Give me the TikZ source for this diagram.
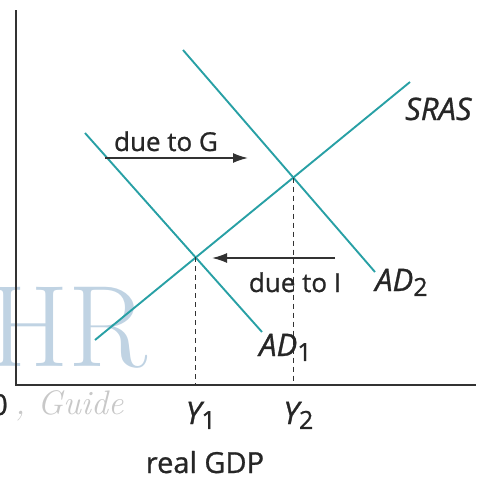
\documentclass[tikz,border=0pt]{standalone}
\usepackage{fontspec}
\setsansfont{Open Sans}
\newfontfamily\labfont{Open Sans}[FakeBold=0.9]
\newfontfamily\labitfont{Open Sans Italic}[FakeBold=0.9]
\usetikzlibrary{intersections,arrows.meta}
\definecolor{curve}{RGB}{40,160,165}
\definecolor{axis}{RGB}{50,50,50}
\definecolor{ink}{RGB}{38,38,38}
\definecolor{wmark}{RGB}{192,211,227}
\definecolor{wgrey}{RGB}{200,200,200}
\tikzset{
  curveline/.style={curve,line width=1.9pt},
  axisline/.style={axis,line width=2.4pt},
  guide/.style={axis,line width=1pt,dash pattern=on 5pt off 4pt},
  shift arrow/.style={axis,line width=1.7pt,-{Latex[length=15pt,width=10pt]}},
  lab/.style={font=\labfont\fontsize{26}{26}\selectfont,text=ink,inner sep=0pt},
  biglab/.style={font=\labfont\fontsize{29}{29}\selectfont,text=ink,inner sep=0pt},
  curvelab/.style={font=\labitfont\fontsize{31}{31}\selectfont,text=ink,inner sep=0pt},
}
\newcommand{\lowsub}[1]{\raisebox{-0.3ex}{\labfont\fontsize{25}{25}\selectfont #1}}
\begin{document}
\begin{tikzpicture}[x=1pt,y=-1pt]
\useasboundingbox (0,0) rectangle (483,479);
% watermark
\node[wmark,font=\rmfamily\fontsize{116}{116}\selectfont,anchor=base east,inner sep=0pt] (wm) at (148,366) {HR};
\node[wgrey,font=\rmfamily\itshape\fontsize{34}{34}\selectfont,anchor=base west,inner sep=0pt] (wg) at (15,414) {, Guide};
% axes
\coordinate (top) at (16,10);
\coordinate (orig) at (16,385);
\coordinate (right) at (476,385);
\draw[axisline] (top) -- (orig) -- (right);
\node[biglab,anchor=base east] (zero) at (8,415) {0};
% curves
\coordinate (s1) at (95,340);
\coordinate (s2) at (410,82);
\coordinate (a1) at (85,133);
\coordinate (a1e) at (262,332);
\coordinate (b1) at (183,50);
\coordinate (b1e) at (375,272);
\draw[curveline,name path=sras] (s1) -- (s2);
\draw[curveline,name path=ad1] (a1) -- (a1e);
\draw[curveline,name path=ad2] (b1) -- (b1e);
\path[name intersections={of=sras and ad1,by=e1}];
\path[name intersections={of=sras and ad2,by=e2}];
\coordinate (y1) at (e1 |- orig);
\coordinate (y2) at (e2 |- orig);
\draw[guide] (e1) -- (y1);
\draw[guide] (e2) -- (y2);
% labels
\node[curvelab,anchor=base west] (srasl) at (405,120) {SRAS};
\node[curvelab,anchor=base west] (ad1l) at (259,356) {AD\lowsub{1}};
\node[curvelab,anchor=base west] (ad2l) at (375,291) {AD\lowsub{2}};
\node[curvelab,anchor=base] (y1l) at ([xshift=5pt]y1 |- 0,424) {Y\lowsub{1}};
\node[curvelab,anchor=base] (y2l) at ([xshift=5pt]y2 |- 0,424) {Y\lowsub{2}};
\node[biglab,anchor=base] (gdp) at (205,473) {real GDP};
% shift arrows
\coordinate (g0) at (105,158);
\coordinate (g1) at (248,158);
\draw[shift arrow] (g0) -- (g1);
\node[lab,anchor=base] (gl) at (166,151) {due to G};
\coordinate (i0) at (335,258);
\coordinate (i1) at (212,258);
\draw[shift arrow] (i0) -- (i1);
\node[lab,anchor=base] (il) at (295,292) {due to I};
\end{tikzpicture}
\end{document}
